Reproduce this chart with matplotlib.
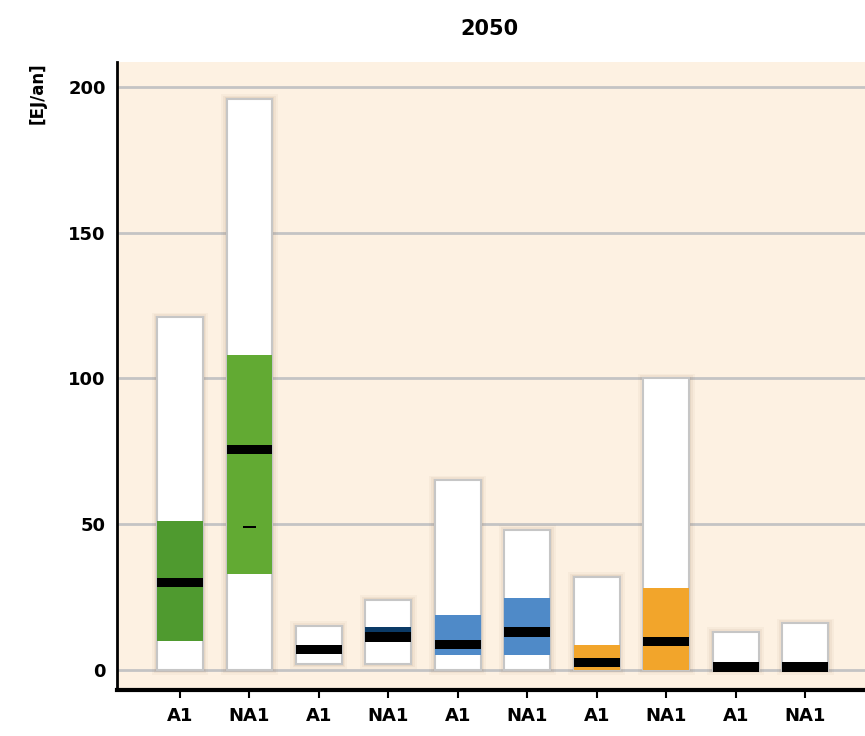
import matplotlib.pyplot as plt
import numpy as np

plt.rcParams['font.family'] = ['Liberation Sans Narrow', 'DejaVu Sans']

# データ
labels = ["A1", "NA1", "A1", "NA1", "A1", "NA1", "A1", "NA1", "A1", "NA1"]
bar_low = [0, 0, 2, 2, 0, 0, 0, 0, 0, 0]
bar_high = [121, 196, 15, 24, 65, 48, 32, 100, 13, 16]
range_low = [10, 33, 0, 12.8, 5, 5, 0, 0, 2, 0]
range_high = [51, 108, 0, 14.6, 19, 24.5, 8.5, 28, 2.7, 0]
range_color = ["#4f9a2f", "#62aa33", "#62aa33", "#0b3a66", "#4f8ac8", "#4f8ac8",
               "#f2a52b", "#f2a52b", "#c0282b", "#c0282b"]
median = [30, 75.5, 7, 11.3, 8.8, 13, 2.6, 9.8, 1.0, 1.0]
extra_mark = {1: 49}

x = np.arange(len(labels))
w = 0.66

fig = plt.figure(figsize=(8.65, 7.36), dpi=100)
ax = fig.add_axes([0.135, 0.0625, 0.865, 0.8535])
ax.set_facecolor("#fdf1e2")

# グリッド
for gy in [0, 50, 100, 150, 200]:
    ax.axhline(gy, color="#c4c4c4", lw=2, zorder=0)

# 影
heights = np.array(bar_high) - np.array(bar_low)
for k, a in [(0.16, 0.06), (0.10, 0.08), (0.05, 0.10)]:
    ax.bar(x, heights + 2 * k * 10, width=w + k, bottom=np.array(bar_low) - k * 10,
           color="#a08060", alpha=a, lw=0, zorder=1)

# 白い箱
ax.bar(x, heights, width=w, bottom=bar_low, color="white",
       edgecolor="#c6c6c6", lw=1.5, zorder=2)

# 色付き範囲
rh = np.array(range_high) - np.array(range_low)
ax.bar(x, rh, width=w, bottom=range_low, color=range_color, lw=0, zorder=3)

# 中央値
med_h = 3.2
ax.bar(x, med_h, width=w, bottom=np.array(median) - med_h / 2,
       color="black", lw=0, zorder=4)
for i, v in extra_mark.items():
    ax.bar(i, 0.8, width=0.2, bottom=v - 0.4, color="black", lw=0, zorder=4)

ax.set_xlim(-0.91, 9.86)
ax.set_ylim(-6.9, 208.6)
ax.set_xticks(x)
ax.set_xticklabels(labels, fontsize=13, fontweight="bold")
ax.set_yticks([0, 50, 100, 150, 200])
ax.set_yticklabels(["0", "50", "100", "150", "200"], fontsize=13, fontweight="bold")
ax.tick_params(axis="y", length=0, pad=8)
ax.tick_params(axis="x", length=6, width=1.5, pad=6)

for s in ["top", "right"]:
    ax.spines[s].set_visible(False)
ax.spines["left"].set_linewidth(2)
ax.spines["bottom"].set_linewidth(3)

fig.text(0.566, 0.96, "2050", ha="center", va="center", fontsize=15, fontweight="bold")
fig.text(0.043, 0.915, "[EJ/an]", rotation=90, ha="center", va="top",
         fontsize=12, fontweight="bold")

fig.savefig("out.png", dpi=100)
